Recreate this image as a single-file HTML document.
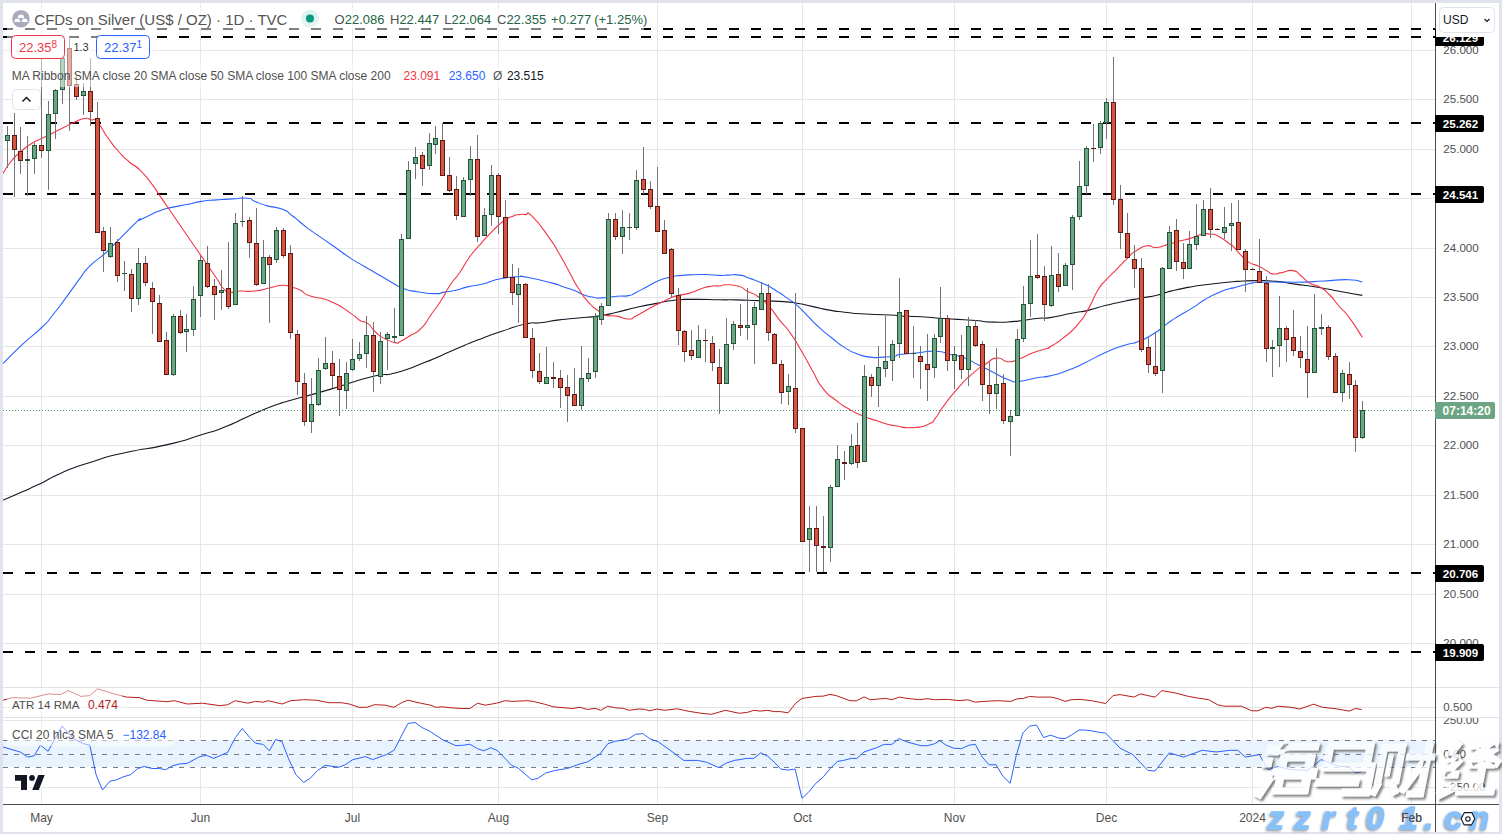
<!DOCTYPE html>
<html><head><meta charset="utf-8"><style>
html,body{margin:0;padding:0;width:1502px;height:834px;overflow:hidden;background:#e0e3eb;font-family:"Liberation Sans",sans-serif;}
#panel{position:absolute;left:3px;top:3px;width:1496px;height:829px;background:#fff;border-radius:0 6px 0 0;}
svg{position:absolute;left:0;top:0;}
.ax{font:11.6px "Liberation Sans",sans-serif;fill:#4f4f4f;}
.axb{font:bold 11.6px "Liberation Sans",sans-serif;fill:#fff;}
.tx{font:12px "Liberation Sans",sans-serif;fill:#4f4f4f;}
.lg{font:12px "Liberation Sans",sans-serif;fill:#4f4f4f;}
.lg13{font:13px "Liberation Sans",sans-serif;fill:#4f4f4f;}
</style></head><body>
<div id="panel"></div>
<svg width="1502" height="834" viewBox="0 0 1502 834">
<defs><clipPath id="cciclip"><rect x="1436" y="718" width="64" height="90"/></clipPath>
<clipPath id="mainclip"><rect x="3" y="3" width="1432" height="684"/></clipPath>
<clipPath id="subclip"><rect x="3" y="688" width="1432" height="116"/></clipPath></defs>
<g clip-path="url(#mainclip)">
<rect x="3" y="50" width="1432" height="1" fill="#e6e6e6"/>
<rect x="3" y="99" width="1432" height="1" fill="#e6e6e6"/>
<rect x="3" y="149" width="1432" height="1" fill="#e6e6e6"/>
<rect x="3" y="198" width="1432" height="1" fill="#e6e6e6"/>
<rect x="3" y="248" width="1432" height="1" fill="#e6e6e6"/>
<rect x="3" y="297" width="1432" height="1" fill="#e6e6e6"/>
<rect x="3" y="346" width="1432" height="1" fill="#e6e6e6"/>
<rect x="3" y="396" width="1432" height="1" fill="#e6e6e6"/>
<rect x="3" y="445" width="1432" height="1" fill="#e6e6e6"/>
<rect x="3" y="495" width="1432" height="1" fill="#e6e6e6"/>
<rect x="3" y="544" width="1432" height="1" fill="#e6e6e6"/>
<rect x="3" y="594" width="1432" height="1" fill="#e6e6e6"/>
<rect x="3" y="643" width="1432" height="1" fill="#e6e6e6"/>
<rect x="41" y="3" width="1" height="801" fill="#e6e6e6"/>
<rect x="200" y="3" width="1" height="801" fill="#e6e6e6"/>
<rect x="352" y="3" width="1" height="801" fill="#e6e6e6"/>
<rect x="498" y="3" width="1" height="801" fill="#e6e6e6"/>
<rect x="657" y="3" width="1" height="801" fill="#e6e6e6"/>
<rect x="802" y="3" width="1" height="801" fill="#e6e6e6"/>
<rect x="954" y="3" width="1" height="801" fill="#e6e6e6"/>
<rect x="1106" y="3" width="1" height="801" fill="#e6e6e6"/>
<rect x="1252" y="3" width="1" height="801" fill="#e6e6e6"/>
<rect x="1411" y="3" width="1" height="801" fill="#e6e6e6"/>
<line x1="3" y1="29" x2="1435" y2="29" stroke="#000" stroke-width="2" stroke-dasharray="10 12"/>
<line x1="3" y1="37" x2="1435" y2="37" stroke="#000" stroke-width="2" stroke-dasharray="10 12"/>
<line x1="3" y1="123" x2="1435" y2="123" stroke="#000" stroke-width="2" stroke-dasharray="10 12"/>
<line x1="3" y1="194" x2="1435" y2="194" stroke="#000" stroke-width="2" stroke-dasharray="10 12"/>
<line x1="3" y1="573" x2="1435" y2="573" stroke="#000" stroke-width="2" stroke-dasharray="10 12"/>
<line x1="3" y1="652" x2="1435" y2="652" stroke="#000" stroke-width="2" stroke-dasharray="10 12"/>
<path d="M3.0,500.1 C9.7,497.2 10.1,497.2 23.0,491.5 C35.9,485.8 29.2,488.9 41.7,482.9 C54.2,476.9 44.6,480.1 60.4,473.4 C76.2,466.7 67.4,469.7 89.2,462.7 C111.0,455.7 100.2,458.4 125.9,452.5 C151.6,446.6 141.0,450.8 166.2,444.9 C191.4,439.0 181.3,441.0 201.4,434.8 C221.5,428.6 209.8,433.0 226.6,426.3 C243.4,419.6 235.0,421.9 251.8,414.7 C268.6,407.5 264.2,409.3 276.9,404.6 C289.6,399.9 272.0,405.7 290.0,400.5 C308.0,395.3 303.6,397.0 330.8,389.1 C358.0,381.2 349.8,382.2 371.5,376.8 C393.2,371.4 378.3,377.5 396.0,372.8 C413.7,368.1 405.5,370.1 424.5,362.6 C443.5,355.1 435.4,357.8 453.1,350.3 C470.8,342.8 461.2,346.5 477.5,340.1 C493.8,333.7 485.7,336.6 502.0,331.2 C518.3,325.8 513.7,326.6 526.4,323.8 C539.1,321.0 529.1,324.1 540.0,322.8 C550.9,321.5 546.4,321.5 559.2,319.9 C572.0,318.3 565.6,319.3 578.4,318.0 C591.2,316.7 584.8,318.0 597.6,316.1 C610.4,314.2 604.0,315.2 616.8,312.3 C629.6,309.4 623.2,310.4 636.0,307.5 C648.8,304.6 642.3,306.0 655.1,303.6 C667.9,301.2 661.5,301.6 674.3,300.2 C687.1,298.8 678.3,299.5 693.5,299.4 C708.7,299.3 705.6,299.6 720.0,299.8 C734.4,300.0 723.9,299.6 736.6,299.9 C749.3,300.2 743.8,300.1 758.2,300.6 C772.6,301.1 766.9,300.5 779.8,301.4 C792.7,302.3 786.2,301.5 797.0,303.2 C807.8,304.9 801.3,304.1 812.1,306.4 C822.9,308.7 818.6,308.2 829.4,310.1 C840.2,312.0 832.3,310.9 844.5,312.2 C856.7,313.5 849.3,313.0 866.1,314.0 C882.9,315.0 883.7,314.6 895.0,315.3 C906.3,316.0 891.1,315.5 900.0,316.0 C908.9,316.5 907.2,315.9 921.6,316.7 C936.0,317.5 926.4,317.3 943.2,318.5 C960.0,319.7 955.1,319.1 971.9,320.3 C988.7,321.5 979.1,321.7 993.5,322.1 C1007.9,322.5 1000.7,322.6 1015.1,321.4 C1029.5,320.2 1025.1,319.8 1036.7,318.5 C1048.3,317.2 1038.4,319.3 1050.0,317.6 C1061.6,315.9 1058.6,315.8 1071.6,313.3 C1084.6,310.8 1077.4,312.8 1088.9,310.1 C1100.4,307.4 1093.9,308.3 1106.1,305.3 C1118.3,302.3 1114.0,303.4 1125.5,301.0 C1137.0,298.6 1129.9,300.2 1140.7,298.2 C1151.5,296.2 1147.8,297.4 1157.9,295.0 C1168.0,292.6 1160.8,293.6 1170.9,291.1 C1181.0,288.6 1176.6,289.5 1188.1,287.4 C1199.6,285.3 1191.4,286.6 1205.4,284.8 C1219.4,283.0 1219.3,283.1 1230.0,282.0 C1240.7,280.9 1228.7,281.9 1237.6,281.4 C1246.5,280.9 1244.0,280.6 1256.8,280.6 C1269.6,280.6 1263.2,280.2 1276.0,281.4 C1288.8,282.6 1282.4,282.3 1295.2,284.1 C1308.0,285.9 1301.6,284.8 1314.4,286.8 C1327.2,288.8 1317.6,287.3 1333.6,290.2 C1349.6,293.1 1352.7,293.7 1362.3,295.4" fill="none" stroke="#131722" stroke-width="1.1"/>
<path d="M3.0,363.5 C9.7,357.0 10.1,355.9 23.0,343.9 C35.9,331.9 31.6,337.3 41.7,327.5 C51.8,317.7 45.0,324.6 53.2,314.5 C61.4,304.4 57.5,309.0 66.2,297.3 C74.9,285.6 71.4,289.8 79.2,279.4 C87.0,269.0 80.9,275.0 89.7,266.2 C98.5,257.4 95.8,261.8 105.5,253.0 C115.2,244.2 108.1,250.3 118.7,239.8 C129.3,229.3 130.1,228.0 137.2,221.4 C144.3,214.8 135.9,222.1 140.0,220.0 C144.1,217.9 143.2,218.2 149.6,215.2 C156.0,212.2 152.2,213.5 159.2,211.0 C166.2,208.5 161.1,209.8 170.7,207.6 C180.3,205.4 177.8,206.4 188.0,204.3 C198.2,202.2 191.8,202.9 201.4,201.4 C211.0,199.9 206.5,200.7 216.7,199.9 C226.9,199.1 221.9,199.4 232.1,198.9 C242.3,198.4 239.7,197.5 247.4,198.3 C255.1,199.1 248.7,199.0 255.1,201.4 C261.5,203.8 257.6,203.0 266.6,205.6 C275.6,208.2 273.7,205.9 282.0,209.1 C290.3,212.3 285.6,210.9 291.6,215.2 C297.6,219.5 293.7,217.0 300.0,222.0 C306.3,227.0 300.1,222.7 310.4,230.1 C320.7,237.5 317.2,234.8 330.8,244.3 C344.4,253.8 341.4,252.1 351.1,258.6 C360.8,265.1 353.2,259.9 360.0,263.9 C366.8,267.9 363.8,266.1 371.5,270.6 C379.2,275.1 375.3,272.8 383.0,277.3 C390.7,281.8 387.5,280.2 394.5,284.0 C401.5,287.8 396.4,286.2 404.1,288.8 C411.8,291.4 407.4,290.1 417.6,291.7 C427.8,293.3 425.9,293.5 434.8,293.6 C443.7,293.7 437.3,293.2 444.4,292.1 C451.5,291.0 448.3,291.9 456.0,290.2 C463.7,288.5 458.6,289.0 467.5,286.9 C476.4,284.8 473.9,286.2 482.8,284.0 C491.7,281.8 486.6,282.2 494.3,280.2 C502.0,278.2 498.1,279.1 505.8,277.9 C513.5,276.7 510.3,276.9 517.4,276.7 C524.5,276.5 515.6,275.2 527.0,277.3 C538.4,279.4 539.5,279.8 551.5,282.9 C563.5,286.0 555.3,284.1 563.0,286.7 C570.7,289.3 567.5,287.8 574.5,290.6 C581.5,293.4 577.7,292.8 584.1,295.0 C590.5,297.2 587.9,296.3 593.7,297.3 C599.5,298.3 593.7,298.2 601.4,297.9 C609.1,297.6 607.8,297.1 616.8,296.3 C625.8,295.5 621.9,296.9 628.3,295.6 C634.7,294.3 629.6,295.6 636.0,292.5 C642.4,289.4 639.8,290.4 647.5,286.4 C655.2,282.4 651.3,283.7 659.0,280.6 C666.7,277.5 662.8,278.8 670.5,277.1 C678.2,275.4 674.3,276.2 682.0,275.4 C689.7,274.6 685.8,275.1 693.5,274.8 C701.2,274.5 696.2,274.3 705.0,274.5 C713.8,274.7 712.3,275.2 720.0,275.4 C727.7,275.6 721.4,275.2 728.0,275.1 C734.6,275.0 732.6,274.0 739.8,275.1 C747.0,276.2 741.9,275.6 749.5,278.3 C757.1,281.0 753.9,279.3 762.5,283.3 C771.1,287.3 766.8,285.0 775.4,290.2 C784.0,295.4 781.2,293.9 788.4,298.9 C795.6,303.9 790.5,299.6 797.0,305.3 C803.5,311.0 800.6,308.9 807.8,316.1 C815.0,323.3 810.7,319.7 818.6,326.9 C826.5,334.1 823.0,330.9 831.6,337.7 C840.2,344.5 835.9,342.0 844.5,347.4 C853.1,352.8 848.9,350.7 857.5,353.9 C866.1,357.1 861.8,356.0 870.4,357.1 C879.0,358.2 875.2,357.5 883.4,357.1 C891.6,356.7 889.5,356.9 895.0,356.0 C900.5,355.1 892.3,355.6 900.0,354.5 C907.7,353.4 906.0,353.8 918.0,352.7 C930.0,351.6 925.2,350.6 936.0,351.2 C946.8,351.8 940.8,352.2 950.4,354.5 C960.0,356.8 955.1,354.5 964.7,358.1 C974.3,361.7 969.5,360.5 979.1,365.3 C988.7,370.1 983.9,367.6 993.5,372.4 C1003.1,377.2 999.5,376.6 1007.9,379.6 C1016.3,382.6 1009.1,382.0 1018.7,381.4 C1028.3,380.8 1026.3,379.6 1036.7,377.8 C1047.1,376.0 1039.8,378.3 1050.0,375.9 C1060.2,373.5 1055.8,374.8 1067.3,370.5 C1078.8,366.2 1071.6,369.1 1084.5,363.0 C1097.4,356.9 1092.4,358.2 1106.1,352.2 C1119.8,346.2 1114.7,348.6 1125.5,345.0 C1136.3,341.4 1129.1,345.1 1138.5,341.4 C1147.9,337.7 1144.2,339.6 1153.6,333.8 C1163.0,328.0 1158.0,330.2 1166.6,324.1 C1175.2,318.0 1170.9,320.9 1179.5,315.5 C1188.1,310.1 1183.9,313.3 1192.5,307.9 C1201.1,302.5 1196.8,304.3 1205.4,299.3 C1214.0,294.3 1210.2,296.4 1218.4,292.8 C1226.6,289.2 1224.9,290.1 1230.0,288.5 C1235.1,286.9 1226.1,289.8 1233.7,287.9 C1241.3,286.0 1242.0,284.8 1252.9,282.9 C1263.8,281.0 1255.5,282.4 1266.4,282.1 C1277.3,281.8 1272.8,282.1 1285.6,282.1 C1298.4,282.1 1292.0,282.5 1304.8,282.1 C1317.6,281.7 1309.3,281.8 1324.0,281.0 C1338.7,280.2 1336.1,279.3 1348.9,279.7 C1361.7,280.1 1357.8,281.3 1362.3,282.1" fill="none" stroke="#2962ff" stroke-width="1.1"/>
<path d="M3.0,173.5 C5.5,169.7 4.6,169.3 10.6,162.0 C16.6,154.7 14.1,157.7 21.1,151.5 C28.1,145.3 24.7,147.9 31.7,143.5 C38.7,139.1 35.2,141.8 42.2,138.3 C49.2,134.8 45.8,136.5 52.8,133.0 C59.8,129.5 56.3,131.2 63.3,127.7 C70.3,124.2 66.9,125.5 73.9,122.4 C80.9,119.3 78.7,119.4 84.4,118.5 C90.1,117.6 86.6,118.5 91.0,119.8 C95.4,121.1 91.9,116.2 97.6,122.4 C103.3,128.6 101.2,128.6 108.2,138.3 C115.2,148.0 111.7,143.6 118.7,151.5 C125.7,159.4 122.2,155.8 129.3,162.0 C136.4,168.2 132.6,162.9 140.0,170.1 C147.4,177.3 145.1,175.4 151.5,183.6 C157.9,191.8 153.4,186.4 159.2,194.8 C165.0,203.2 162.4,199.5 168.8,208.8 C175.2,218.1 172.0,213.5 178.4,222.8 C184.8,232.1 181.6,227.4 188.0,236.7 C194.4,246.0 191.2,241.4 197.6,250.7 C204.0,260.0 200.7,255.2 207.1,264.5 C213.5,273.8 210.9,270.1 216.7,278.5 C222.5,286.9 219.6,285.1 224.4,289.7 C229.2,294.3 226.0,291.9 231.1,292.3 C236.2,292.7 231.8,291.4 239.8,291.0 C247.8,290.6 244.9,292.1 255.1,291.0 C265.3,289.9 261.2,289.6 270.5,287.7 C279.8,285.8 275.9,285.5 282.9,285.3 C289.9,285.1 285.9,285.6 291.6,287.2 C297.3,288.8 293.7,287.0 300.0,290.0 C306.3,293.0 300.1,292.3 310.4,296.1 C320.7,299.9 317.2,295.6 330.8,301.4 C344.4,307.2 341.4,307.2 351.1,313.6 C360.8,320.0 354.5,317.2 360.0,320.5 C365.5,323.8 362.6,319.6 367.7,323.4 C372.8,327.2 369.7,326.9 375.4,332.0 C381.1,337.1 378.2,335.2 384.9,338.7 C391.6,342.2 390.4,341.6 395.5,342.6 C400.6,343.6 395.5,343.9 400.3,341.6 C405.1,339.3 402.9,340.3 409.9,335.8 C416.9,331.3 414.4,335.2 421.4,328.2 C428.4,321.2 424.6,323.7 431.0,314.7 C437.4,305.7 434.2,311.2 440.6,301.3 C447.0,291.4 443.8,294.6 450.2,285.0 C456.6,275.4 453.4,281.8 459.8,272.5 C466.2,263.2 463.0,266.1 469.4,257.2 C475.8,248.3 472.6,253.1 479.0,245.7 C485.4,238.3 482.2,241.8 488.6,235.1 C495.0,228.4 492.5,230.6 498.2,225.5 C503.9,220.4 500.7,222.9 505.8,219.7 C510.9,216.5 509.0,217.6 513.5,215.9 C518.0,214.2 515.5,215.0 519.3,214.6 C523.1,214.2 520.5,213.8 525.0,214.6 C529.5,215.4 524.5,209.0 532.7,216.9 C540.9,224.8 540.8,226.1 549.6,238.4 C558.4,250.7 552.8,242.8 559.2,253.7 C565.6,264.6 562.4,259.5 568.8,271.0 C575.2,282.5 572.0,278.1 578.4,288.3 C584.8,298.5 581.6,294.4 588.0,301.7 C594.4,309.0 591.9,305.8 597.6,310.3 C603.3,314.8 598.8,313.2 605.2,315.1 C611.6,317.0 609.1,314.8 616.8,316.1 C624.5,317.4 621.9,319.0 628.3,319.0 C634.7,319.0 629.6,319.3 636.0,316.1 C642.4,312.9 639.8,313.6 647.5,309.4 C655.2,305.2 651.3,307.4 659.0,303.6 C666.7,299.8 664.1,300.6 670.5,297.9 C676.9,295.2 671.8,297.2 678.2,295.6 C684.6,294.0 682.0,295.4 689.7,293.1 C697.4,290.8 693.5,291.1 701.2,288.7 C708.9,286.3 706.4,286.9 712.7,286.0 C719.0,285.1 715.6,286.4 720.0,286.0 C724.4,285.6 719.6,284.7 725.8,284.8 C732.0,284.9 731.5,284.1 738.7,286.3 C745.9,288.5 740.9,287.8 747.4,291.3 C753.9,294.8 751.0,291.7 758.2,296.7 C765.4,301.7 761.8,298.5 769.0,306.4 C776.2,314.3 772.6,311.4 779.8,320.4 C787.0,329.4 783.3,323.3 790.5,333.4 C797.7,343.5 794.1,338.5 801.3,350.7 C808.5,362.9 804.9,357.5 812.1,370.1 C819.3,382.7 815.0,378.3 822.9,388.4 C830.8,398.5 827.3,393.5 835.9,400.3 C844.5,407.1 840.2,403.9 848.8,408.9 C857.4,413.9 852.4,411.4 861.8,415.4 C871.2,419.4 865.8,417.3 876.9,420.8 C888.0,424.3 882.5,423.6 895.0,425.8 C907.5,428.0 903.1,428.1 914.4,427.5 C925.7,426.9 921.6,427.3 928.8,423.9 C936.0,420.5 931.2,423.2 936.0,417.4 C940.8,411.6 936.0,416.2 943.2,406.6 C950.4,397.0 948.0,399.4 957.6,388.6 C967.2,377.8 962.3,382.6 971.9,374.2 C981.5,365.8 977.9,368.9 986.3,363.5 C994.7,358.1 989.9,358.7 997.1,358.1 C1004.3,357.5 1000.7,361.4 1007.9,361.7 C1015.1,362.0 1010.3,362.1 1018.7,359.1 C1027.1,356.1 1023.5,356.3 1033.1,352.7 C1042.7,349.1 1041.9,350.3 1047.5,348.3 C1053.1,346.3 1044.8,350.2 1050.0,346.8 C1055.2,343.4 1053.6,345.7 1063.0,338.1 C1072.4,330.5 1069.5,334.2 1078.1,324.1 C1086.7,314.0 1082.4,319.0 1088.9,307.9 C1095.4,296.8 1091.8,300.0 1097.5,290.7 C1103.2,281.4 1099.6,287.1 1106.1,279.9 C1112.6,272.7 1109.7,276.5 1116.9,269.1 C1124.1,261.7 1121.2,263.9 1127.7,257.8 C1134.2,251.7 1129.8,254.7 1136.3,250.7 C1142.8,246.7 1140.6,246.9 1147.1,245.8 C1153.6,244.7 1149.3,247.8 1155.8,247.5 C1162.3,247.2 1158.7,247.1 1166.6,244.9 C1174.5,242.7 1171.6,243.2 1179.5,241.0 C1187.4,238.8 1183.1,240.6 1190.3,238.4 C1197.5,236.2 1194.6,235.9 1201.1,234.5 C1207.6,233.1 1203.9,233.5 1209.7,234.1 C1215.5,234.7 1211.6,232.9 1218.4,236.3 C1225.2,239.7 1224.9,240.6 1230.0,244.2 C1235.1,247.8 1229.9,243.2 1233.7,247.0 C1237.5,250.8 1236.3,250.6 1241.4,255.7 C1246.5,260.8 1243.3,258.9 1249.1,262.4 C1254.9,265.9 1252.9,263.5 1258.7,266.2 C1264.5,268.9 1261.6,268.0 1266.4,270.6 C1271.2,273.2 1268.0,273.2 1273.1,273.9 C1278.2,274.6 1275.0,273.7 1281.7,272.6 C1288.4,271.5 1286.8,269.5 1293.2,270.6 C1299.6,271.7 1295.1,271.5 1300.9,275.8 C1306.7,280.1 1304.1,279.7 1310.5,283.5 C1316.9,287.3 1313.7,283.5 1320.1,287.3 C1326.5,291.1 1323.3,288.6 1329.7,295.0 C1336.1,301.4 1332.9,299.1 1339.3,306.5 C1345.7,313.9 1341.2,306.9 1348.9,317.1 C1356.6,327.3 1357.8,330.5 1362.3,337.2" fill="none" stroke="#f23645" stroke-width="1.1"/>
<line x1="3" y1="410.5" x2="1435" y2="410.5" stroke="#4c9c72" stroke-width="1" stroke-dasharray="1 2"/>
<g shape-rendering="crispEdges"><rect x="7" y="126" width="1" height="42" fill="#737375"/><rect x="5" y="135" width="5" height="6" fill="#225437"/><rect x="6" y="136" width="3" height="4" fill="#6ba583"/><rect x="14" y="113" width="1" height="84" fill="#737375"/><rect x="12" y="135" width="5" height="15" fill="#5b1a13"/><rect x="13" y="136" width="3" height="13" fill="#d75442"/><rect x="20" y="127" width="1" height="47" fill="#737375"/><rect x="18" y="151" width="5" height="10" fill="#5b1a13"/><rect x="19" y="152" width="3" height="8" fill="#d75442"/><rect x="27" y="136" width="1" height="60" fill="#737375"/><rect x="25" y="159" width="5" height="2" fill="#225437"/><rect x="34" y="143" width="1" height="31" fill="#737375"/><rect x="32" y="145" width="5" height="14" fill="#225437"/><rect x="33" y="146" width="3" height="12" fill="#6ba583"/><rect x="41" y="55" width="1" height="103" fill="#737375"/><rect x="39" y="145" width="5" height="6" fill="#5b1a13"/><rect x="40" y="146" width="3" height="4" fill="#d75442"/><rect x="48" y="101" width="1" height="89" fill="#737375"/><rect x="46" y="114" width="5" height="37" fill="#225437"/><rect x="47" y="115" width="3" height="35" fill="#6ba583"/><rect x="55" y="89" width="1" height="50" fill="#737375"/><rect x="53" y="90" width="5" height="24" fill="#225437"/><rect x="54" y="91" width="3" height="22" fill="#6ba583"/><rect x="62" y="56" width="1" height="48" fill="#737375"/><rect x="60" y="58" width="5" height="32" fill="#225437"/><rect x="61" y="59" width="3" height="30" fill="#6ba583"/><rect x="69" y="37" width="1" height="94" fill="#737375"/><rect x="67" y="48" width="5" height="38" fill="#5b1a13"/><rect x="68" y="49" width="3" height="36" fill="#d75442"/><rect x="76" y="76" width="1" height="24" fill="#737375"/><rect x="74" y="84" width="5" height="13" fill="#5b1a13"/><rect x="75" y="85" width="3" height="11" fill="#d75442"/><rect x="83" y="83" width="1" height="32" fill="#737375"/><rect x="81" y="91" width="5" height="5" fill="#225437"/><rect x="82" y="92" width="3" height="3" fill="#6ba583"/><rect x="90" y="58" width="1" height="68" fill="#737375"/><rect x="88" y="91" width="5" height="21" fill="#5b1a13"/><rect x="89" y="92" width="3" height="19" fill="#d75442"/><rect x="97" y="102" width="1" height="131" fill="#737375"/><rect x="95" y="118" width="5" height="115" fill="#5b1a13"/><rect x="96" y="119" width="3" height="113" fill="#d75442"/><rect x="103" y="227" width="1" height="45" fill="#737375"/><rect x="101" y="231" width="5" height="20" fill="#5b1a13"/><rect x="102" y="232" width="3" height="18" fill="#d75442"/><rect x="110" y="227" width="1" height="31" fill="#737375"/><rect x="108" y="243" width="5" height="14" fill="#225437"/><rect x="109" y="244" width="3" height="12" fill="#6ba583"/><rect x="117" y="239" width="1" height="43" fill="#737375"/><rect x="115" y="242" width="5" height="34" fill="#5b1a13"/><rect x="116" y="243" width="3" height="32" fill="#d75442"/><rect x="124" y="261" width="1" height="30" fill="#737375"/><rect x="122" y="273" width="5" height="1" fill="#225437"/><rect x="131" y="269" width="1" height="43" fill="#737375"/><rect x="129" y="274" width="5" height="25" fill="#5b1a13"/><rect x="130" y="275" width="3" height="23" fill="#d75442"/><rect x="138" y="248" width="1" height="57" fill="#737375"/><rect x="136" y="263" width="5" height="36" fill="#225437"/><rect x="137" y="264" width="3" height="34" fill="#6ba583"/><rect x="145" y="256" width="1" height="30" fill="#737375"/><rect x="143" y="263" width="5" height="20" fill="#5b1a13"/><rect x="144" y="264" width="3" height="18" fill="#d75442"/><rect x="152" y="282" width="1" height="52" fill="#737375"/><rect x="150" y="288" width="5" height="14" fill="#5b1a13"/><rect x="151" y="289" width="3" height="12" fill="#d75442"/><rect x="159" y="295" width="1" height="47" fill="#737375"/><rect x="157" y="303" width="5" height="39" fill="#5b1a13"/><rect x="158" y="304" width="3" height="37" fill="#d75442"/><rect x="166" y="332" width="1" height="43" fill="#737375"/><rect x="164" y="340" width="5" height="35" fill="#5b1a13"/><rect x="165" y="341" width="3" height="33" fill="#d75442"/><rect x="173" y="314" width="1" height="62" fill="#737375"/><rect x="171" y="316" width="5" height="59" fill="#225437"/><rect x="172" y="317" width="3" height="57" fill="#6ba583"/><rect x="180" y="310" width="1" height="24" fill="#737375"/><rect x="178" y="316" width="5" height="17" fill="#5b1a13"/><rect x="179" y="317" width="3" height="15" fill="#d75442"/><rect x="186" y="314" width="1" height="38" fill="#737375"/><rect x="184" y="329" width="5" height="3" fill="#225437"/><rect x="185" y="330" width="3" height="1" fill="#6ba583"/><rect x="193" y="286" width="1" height="50" fill="#737375"/><rect x="191" y="299" width="5" height="31" fill="#225437"/><rect x="192" y="300" width="3" height="29" fill="#6ba583"/><rect x="200" y="256" width="1" height="61" fill="#737375"/><rect x="198" y="260" width="5" height="36" fill="#225437"/><rect x="199" y="261" width="3" height="34" fill="#6ba583"/><rect x="207" y="246" width="1" height="42" fill="#737375"/><rect x="205" y="263" width="5" height="24" fill="#5b1a13"/><rect x="206" y="264" width="3" height="22" fill="#d75442"/><rect x="214" y="279" width="1" height="41" fill="#737375"/><rect x="212" y="286" width="5" height="9" fill="#5b1a13"/><rect x="213" y="287" width="3" height="7" fill="#d75442"/><rect x="221" y="270" width="1" height="40" fill="#737375"/><rect x="219" y="290" width="5" height="3" fill="#225437"/><rect x="220" y="291" width="3" height="1" fill="#6ba583"/><rect x="228" y="242" width="1" height="67" fill="#737375"/><rect x="226" y="288" width="5" height="19" fill="#5b1a13"/><rect x="227" y="289" width="3" height="17" fill="#d75442"/><rect x="235" y="213" width="1" height="92" fill="#737375"/><rect x="233" y="223" width="5" height="82" fill="#225437"/><rect x="234" y="224" width="3" height="80" fill="#6ba583"/><rect x="242" y="196" width="1" height="31" fill="#737375"/><rect x="240" y="221" width="5" height="1" fill="#225437"/><rect x="249" y="217" width="1" height="41" fill="#737375"/><rect x="247" y="220" width="5" height="23" fill="#5b1a13"/><rect x="248" y="221" width="3" height="21" fill="#d75442"/><rect x="256" y="208" width="1" height="78" fill="#737375"/><rect x="254" y="243" width="5" height="42" fill="#5b1a13"/><rect x="255" y="244" width="3" height="40" fill="#d75442"/><rect x="263" y="240" width="1" height="44" fill="#737375"/><rect x="261" y="257" width="5" height="27" fill="#225437"/><rect x="262" y="258" width="3" height="25" fill="#6ba583"/><rect x="269" y="255" width="1" height="68" fill="#737375"/><rect x="267" y="257" width="5" height="8" fill="#5b1a13"/><rect x="268" y="258" width="3" height="6" fill="#d75442"/><rect x="276" y="227" width="1" height="36" fill="#737375"/><rect x="274" y="230" width="5" height="30" fill="#225437"/><rect x="275" y="231" width="3" height="28" fill="#6ba583"/><rect x="283" y="228" width="1" height="30" fill="#737375"/><rect x="281" y="230" width="5" height="26" fill="#5b1a13"/><rect x="282" y="231" width="3" height="24" fill="#d75442"/><rect x="290" y="245" width="1" height="94" fill="#737375"/><rect x="288" y="253" width="5" height="80" fill="#5b1a13"/><rect x="289" y="254" width="3" height="78" fill="#d75442"/><rect x="297" y="330" width="1" height="65" fill="#737375"/><rect x="295" y="334" width="5" height="48" fill="#5b1a13"/><rect x="296" y="335" width="3" height="46" fill="#d75442"/><rect x="304" y="373" width="1" height="53" fill="#737375"/><rect x="302" y="383" width="5" height="39" fill="#5b1a13"/><rect x="303" y="384" width="3" height="37" fill="#d75442"/><rect x="311" y="378" width="1" height="55" fill="#737375"/><rect x="309" y="404" width="5" height="18" fill="#225437"/><rect x="310" y="405" width="3" height="16" fill="#6ba583"/><rect x="318" y="358" width="1" height="48" fill="#737375"/><rect x="316" y="370" width="5" height="35" fill="#225437"/><rect x="317" y="371" width="3" height="33" fill="#6ba583"/><rect x="325" y="337" width="1" height="33" fill="#737375"/><rect x="323" y="363" width="5" height="6" fill="#225437"/><rect x="324" y="364" width="3" height="4" fill="#6ba583"/><rect x="332" y="351" width="1" height="37" fill="#737375"/><rect x="330" y="363" width="5" height="13" fill="#5b1a13"/><rect x="331" y="364" width="3" height="11" fill="#d75442"/><rect x="339" y="359" width="1" height="57" fill="#737375"/><rect x="337" y="376" width="5" height="14" fill="#5b1a13"/><rect x="338" y="377" width="3" height="12" fill="#d75442"/><rect x="346" y="362" width="1" height="47" fill="#737375"/><rect x="344" y="373" width="5" height="18" fill="#225437"/><rect x="345" y="374" width="3" height="16" fill="#6ba583"/><rect x="352" y="339" width="1" height="32" fill="#737375"/><rect x="350" y="359" width="5" height="11" fill="#225437"/><rect x="351" y="360" width="3" height="9" fill="#6ba583"/><rect x="359" y="342" width="1" height="19" fill="#737375"/><rect x="357" y="354" width="5" height="5" fill="#225437"/><rect x="358" y="355" width="3" height="3" fill="#6ba583"/><rect x="366" y="316" width="1" height="52" fill="#737375"/><rect x="364" y="335" width="5" height="19" fill="#225437"/><rect x="365" y="336" width="3" height="17" fill="#6ba583"/><rect x="373" y="322" width="1" height="70" fill="#737375"/><rect x="371" y="335" width="5" height="37" fill="#5b1a13"/><rect x="372" y="336" width="3" height="35" fill="#d75442"/><rect x="380" y="332" width="1" height="52" fill="#737375"/><rect x="378" y="341" width="5" height="36" fill="#225437"/><rect x="379" y="342" width="3" height="34" fill="#6ba583"/><rect x="387" y="332" width="1" height="38" fill="#737375"/><rect x="385" y="334" width="5" height="5" fill="#225437"/><rect x="386" y="335" width="3" height="3" fill="#6ba583"/><rect x="394" y="308" width="1" height="35" fill="#737375"/><rect x="392" y="336" width="5" height="2" fill="#225437"/><rect x="401" y="234" width="1" height="102" fill="#737375"/><rect x="399" y="239" width="5" height="97" fill="#225437"/><rect x="400" y="240" width="3" height="95" fill="#6ba583"/><rect x="408" y="161" width="1" height="78" fill="#737375"/><rect x="406" y="170" width="5" height="69" fill="#225437"/><rect x="407" y="171" width="3" height="67" fill="#6ba583"/><rect x="415" y="147" width="1" height="32" fill="#737375"/><rect x="413" y="157" width="5" height="7" fill="#225437"/><rect x="414" y="158" width="3" height="5" fill="#6ba583"/><rect x="422" y="152" width="1" height="34" fill="#737375"/><rect x="420" y="155" width="5" height="14" fill="#5b1a13"/><rect x="421" y="156" width="3" height="12" fill="#d75442"/><rect x="429" y="133" width="1" height="37" fill="#737375"/><rect x="427" y="143" width="5" height="23" fill="#225437"/><rect x="428" y="144" width="3" height="21" fill="#6ba583"/><rect x="435" y="126" width="1" height="28" fill="#737375"/><rect x="433" y="138" width="5" height="7" fill="#225437"/><rect x="434" y="139" width="3" height="5" fill="#6ba583"/><rect x="442" y="123" width="1" height="53" fill="#737375"/><rect x="440" y="140" width="5" height="36" fill="#5b1a13"/><rect x="441" y="141" width="3" height="34" fill="#d75442"/><rect x="449" y="157" width="1" height="35" fill="#737375"/><rect x="447" y="175" width="5" height="16" fill="#5b1a13"/><rect x="448" y="176" width="3" height="14" fill="#d75442"/><rect x="456" y="176" width="1" height="44" fill="#737375"/><rect x="454" y="189" width="5" height="27" fill="#5b1a13"/><rect x="455" y="190" width="3" height="25" fill="#d75442"/><rect x="463" y="177" width="1" height="40" fill="#737375"/><rect x="461" y="180" width="5" height="37" fill="#225437"/><rect x="462" y="181" width="3" height="35" fill="#6ba583"/><rect x="470" y="146" width="1" height="50" fill="#737375"/><rect x="468" y="159" width="5" height="21" fill="#225437"/><rect x="469" y="160" width="3" height="19" fill="#6ba583"/><rect x="477" y="135" width="1" height="107" fill="#737375"/><rect x="475" y="159" width="5" height="78" fill="#5b1a13"/><rect x="476" y="160" width="3" height="76" fill="#d75442"/><rect x="484" y="208" width="1" height="28" fill="#737375"/><rect x="482" y="215" width="5" height="21" fill="#225437"/><rect x="483" y="216" width="3" height="19" fill="#6ba583"/><rect x="491" y="165" width="1" height="61" fill="#737375"/><rect x="489" y="175" width="5" height="40" fill="#225437"/><rect x="490" y="176" width="3" height="38" fill="#6ba583"/><rect x="498" y="173" width="1" height="61" fill="#737375"/><rect x="496" y="175" width="5" height="42" fill="#5b1a13"/><rect x="497" y="176" width="3" height="40" fill="#d75442"/><rect x="505" y="200" width="1" height="78" fill="#737375"/><rect x="503" y="217" width="5" height="61" fill="#5b1a13"/><rect x="504" y="218" width="3" height="59" fill="#d75442"/><rect x="512" y="264" width="1" height="41" fill="#737375"/><rect x="510" y="277" width="5" height="16" fill="#5b1a13"/><rect x="511" y="278" width="3" height="14" fill="#d75442"/><rect x="518" y="268" width="1" height="55" fill="#737375"/><rect x="516" y="284" width="5" height="11" fill="#225437"/><rect x="517" y="285" width="3" height="9" fill="#6ba583"/><rect x="525" y="283" width="1" height="55" fill="#737375"/><rect x="523" y="284" width="5" height="54" fill="#5b1a13"/><rect x="524" y="285" width="3" height="52" fill="#d75442"/><rect x="532" y="328" width="1" height="50" fill="#737375"/><rect x="530" y="338" width="5" height="33" fill="#5b1a13"/><rect x="531" y="339" width="3" height="31" fill="#d75442"/><rect x="539" y="353" width="1" height="31" fill="#737375"/><rect x="537" y="371" width="5" height="11" fill="#5b1a13"/><rect x="538" y="372" width="3" height="9" fill="#d75442"/><rect x="546" y="347" width="1" height="37" fill="#737375"/><rect x="544" y="377" width="5" height="7" fill="#225437"/><rect x="545" y="378" width="3" height="5" fill="#6ba583"/><rect x="553" y="362" width="1" height="26" fill="#737375"/><rect x="551" y="377" width="5" height="2" fill="#5b1a13"/><rect x="560" y="370" width="1" height="38" fill="#737375"/><rect x="558" y="378" width="5" height="10" fill="#5b1a13"/><rect x="559" y="379" width="3" height="8" fill="#d75442"/><rect x="567" y="375" width="1" height="47" fill="#737375"/><rect x="565" y="387" width="5" height="9" fill="#5b1a13"/><rect x="566" y="388" width="3" height="7" fill="#d75442"/><rect x="574" y="368" width="1" height="38" fill="#737375"/><rect x="572" y="394" width="5" height="12" fill="#5b1a13"/><rect x="573" y="395" width="3" height="10" fill="#d75442"/><rect x="581" y="346" width="1" height="64" fill="#737375"/><rect x="579" y="378" width="5" height="28" fill="#225437"/><rect x="580" y="379" width="3" height="26" fill="#6ba583"/><rect x="588" y="358" width="1" height="24" fill="#737375"/><rect x="586" y="373" width="5" height="6" fill="#225437"/><rect x="587" y="374" width="3" height="4" fill="#6ba583"/><rect x="595" y="313" width="1" height="65" fill="#737375"/><rect x="593" y="316" width="5" height="56" fill="#225437"/><rect x="594" y="317" width="3" height="54" fill="#6ba583"/><rect x="601" y="303" width="1" height="22" fill="#737375"/><rect x="599" y="306" width="5" height="14" fill="#225437"/><rect x="600" y="307" width="3" height="12" fill="#6ba583"/><rect x="608" y="213" width="1" height="93" fill="#737375"/><rect x="606" y="219" width="5" height="87" fill="#225437"/><rect x="607" y="220" width="3" height="85" fill="#6ba583"/><rect x="615" y="213" width="1" height="27" fill="#737375"/><rect x="613" y="219" width="5" height="18" fill="#5b1a13"/><rect x="614" y="220" width="3" height="16" fill="#d75442"/><rect x="622" y="210" width="1" height="44" fill="#737375"/><rect x="620" y="227" width="5" height="10" fill="#225437"/><rect x="621" y="228" width="3" height="8" fill="#6ba583"/><rect x="629" y="213" width="1" height="27" fill="#737375"/><rect x="627" y="227" width="5" height="1" fill="#225437"/><rect x="636" y="170" width="1" height="60" fill="#737375"/><rect x="634" y="180" width="5" height="48" fill="#225437"/><rect x="635" y="181" width="3" height="46" fill="#6ba583"/><rect x="643" y="147" width="1" height="47" fill="#737375"/><rect x="641" y="179" width="5" height="11" fill="#5b1a13"/><rect x="642" y="180" width="3" height="9" fill="#d75442"/><rect x="650" y="181" width="1" height="28" fill="#737375"/><rect x="648" y="189" width="5" height="18" fill="#5b1a13"/><rect x="649" y="190" width="3" height="16" fill="#d75442"/><rect x="657" y="167" width="1" height="65" fill="#737375"/><rect x="655" y="206" width="5" height="26" fill="#5b1a13"/><rect x="656" y="207" width="3" height="24" fill="#d75442"/><rect x="664" y="220" width="1" height="34" fill="#737375"/><rect x="662" y="230" width="5" height="24" fill="#5b1a13"/><rect x="663" y="231" width="3" height="22" fill="#d75442"/><rect x="671" y="248" width="1" height="50" fill="#737375"/><rect x="669" y="249" width="5" height="45" fill="#5b1a13"/><rect x="670" y="250" width="3" height="43" fill="#d75442"/><rect x="678" y="288" width="1" height="57" fill="#737375"/><rect x="676" y="295" width="5" height="36" fill="#5b1a13"/><rect x="677" y="296" width="3" height="34" fill="#d75442"/><rect x="684" y="330" width="1" height="32" fill="#737375"/><rect x="682" y="331" width="5" height="21" fill="#5b1a13"/><rect x="683" y="332" width="3" height="19" fill="#d75442"/><rect x="691" y="330" width="1" height="30" fill="#737375"/><rect x="689" y="350" width="5" height="6" fill="#5b1a13"/><rect x="690" y="351" width="3" height="4" fill="#d75442"/><rect x="698" y="325" width="1" height="33" fill="#737375"/><rect x="696" y="340" width="5" height="18" fill="#225437"/><rect x="697" y="341" width="3" height="16" fill="#6ba583"/><rect x="705" y="329" width="1" height="33" fill="#737375"/><rect x="703" y="340" width="5" height="1" fill="#5b1a13"/><rect x="712" y="336" width="1" height="35" fill="#737375"/><rect x="710" y="343" width="5" height="20" fill="#5b1a13"/><rect x="711" y="344" width="3" height="18" fill="#d75442"/><rect x="719" y="349" width="1" height="65" fill="#737375"/><rect x="717" y="367" width="5" height="17" fill="#5b1a13"/><rect x="718" y="368" width="3" height="15" fill="#d75442"/><rect x="726" y="318" width="1" height="66" fill="#737375"/><rect x="724" y="344" width="5" height="40" fill="#225437"/><rect x="725" y="345" width="3" height="38" fill="#6ba583"/><rect x="733" y="321" width="1" height="29" fill="#737375"/><rect x="731" y="324" width="5" height="20" fill="#225437"/><rect x="732" y="325" width="3" height="18" fill="#6ba583"/><rect x="740" y="304" width="1" height="32" fill="#737375"/><rect x="738" y="325" width="5" height="3" fill="#5b1a13"/><rect x="739" y="326" width="3" height="1" fill="#d75442"/><rect x="747" y="288" width="1" height="52" fill="#737375"/><rect x="745" y="325" width="5" height="3" fill="#225437"/><rect x="746" y="326" width="3" height="1" fill="#6ba583"/><rect x="754" y="302" width="1" height="62" fill="#737375"/><rect x="752" y="307" width="5" height="18" fill="#225437"/><rect x="753" y="308" width="3" height="16" fill="#6ba583"/><rect x="761" y="282" width="1" height="28" fill="#737375"/><rect x="759" y="293" width="5" height="17" fill="#225437"/><rect x="760" y="294" width="3" height="15" fill="#6ba583"/><rect x="768" y="284" width="1" height="57" fill="#737375"/><rect x="766" y="293" width="5" height="40" fill="#5b1a13"/><rect x="767" y="294" width="3" height="38" fill="#d75442"/><rect x="774" y="333" width="1" height="31" fill="#737375"/><rect x="772" y="334" width="5" height="30" fill="#5b1a13"/><rect x="773" y="335" width="3" height="28" fill="#d75442"/><rect x="781" y="360" width="1" height="44" fill="#737375"/><rect x="779" y="364" width="5" height="29" fill="#5b1a13"/><rect x="780" y="365" width="3" height="27" fill="#d75442"/><rect x="788" y="374" width="1" height="31" fill="#737375"/><rect x="786" y="386" width="5" height="6" fill="#225437"/><rect x="787" y="387" width="3" height="4" fill="#6ba583"/><rect x="795" y="293" width="1" height="140" fill="#737375"/><rect x="793" y="388" width="5" height="41" fill="#5b1a13"/><rect x="794" y="389" width="3" height="39" fill="#d75442"/><rect x="802" y="428" width="1" height="114" fill="#737375"/><rect x="800" y="428" width="5" height="114" fill="#5b1a13"/><rect x="801" y="429" width="3" height="112" fill="#d75442"/><rect x="809" y="506" width="1" height="66" fill="#737375"/><rect x="807" y="528" width="5" height="12" fill="#225437"/><rect x="808" y="529" width="3" height="10" fill="#6ba583"/><rect x="816" y="506" width="1" height="66" fill="#737375"/><rect x="814" y="528" width="5" height="18" fill="#5b1a13"/><rect x="815" y="529" width="3" height="16" fill="#d75442"/><rect x="823" y="516" width="1" height="56" fill="#737375"/><rect x="821" y="546" width="5" height="2" fill="#5b1a13"/><rect x="830" y="485" width="1" height="77" fill="#737375"/><rect x="828" y="487" width="5" height="61" fill="#225437"/><rect x="829" y="488" width="3" height="59" fill="#6ba583"/><rect x="837" y="445" width="1" height="42" fill="#737375"/><rect x="835" y="459" width="5" height="28" fill="#225437"/><rect x="836" y="460" width="3" height="26" fill="#6ba583"/><rect x="844" y="451" width="1" height="29" fill="#737375"/><rect x="842" y="462" width="5" height="2" fill="#5b1a13"/><rect x="851" y="434" width="1" height="31" fill="#737375"/><rect x="849" y="446" width="5" height="18" fill="#225437"/><rect x="850" y="447" width="3" height="16" fill="#6ba583"/><rect x="857" y="423" width="1" height="45" fill="#737375"/><rect x="855" y="445" width="5" height="18" fill="#5b1a13"/><rect x="856" y="446" width="3" height="16" fill="#d75442"/><rect x="864" y="365" width="1" height="97" fill="#737375"/><rect x="862" y="376" width="5" height="86" fill="#225437"/><rect x="863" y="377" width="3" height="84" fill="#6ba583"/><rect x="871" y="374" width="1" height="23" fill="#737375"/><rect x="869" y="377" width="5" height="9" fill="#5b1a13"/><rect x="870" y="378" width="3" height="7" fill="#d75442"/><rect x="878" y="346" width="1" height="61" fill="#737375"/><rect x="876" y="367" width="5" height="19" fill="#225437"/><rect x="877" y="368" width="3" height="17" fill="#6ba583"/><rect x="885" y="316" width="1" height="61" fill="#737375"/><rect x="883" y="361" width="5" height="8" fill="#225437"/><rect x="884" y="362" width="3" height="6" fill="#6ba583"/><rect x="892" y="340" width="1" height="41" fill="#737375"/><rect x="890" y="344" width="5" height="17" fill="#225437"/><rect x="891" y="345" width="3" height="15" fill="#6ba583"/><rect x="899" y="278" width="1" height="80" fill="#737375"/><rect x="897" y="312" width="5" height="32" fill="#225437"/><rect x="898" y="313" width="3" height="30" fill="#6ba583"/><rect x="906" y="310" width="1" height="44" fill="#737375"/><rect x="904" y="310" width="5" height="44" fill="#5b1a13"/><rect x="905" y="311" width="3" height="42" fill="#d75442"/><rect x="913" y="326" width="1" height="52" fill="#737375"/><rect x="911" y="353" width="5" height="1" fill="#225437"/><rect x="920" y="346" width="1" height="43" fill="#737375"/><rect x="918" y="356" width="5" height="6" fill="#5b1a13"/><rect x="919" y="357" width="3" height="4" fill="#d75442"/><rect x="927" y="334" width="1" height="67" fill="#737375"/><rect x="925" y="364" width="5" height="6" fill="#5b1a13"/><rect x="926" y="365" width="3" height="4" fill="#d75442"/><rect x="934" y="334" width="1" height="44" fill="#737375"/><rect x="932" y="338" width="5" height="30" fill="#225437"/><rect x="933" y="339" width="3" height="28" fill="#6ba583"/><rect x="940" y="287" width="1" height="56" fill="#737375"/><rect x="938" y="318" width="5" height="19" fill="#225437"/><rect x="939" y="319" width="3" height="17" fill="#6ba583"/><rect x="947" y="315" width="1" height="56" fill="#737375"/><rect x="945" y="318" width="5" height="43" fill="#5b1a13"/><rect x="946" y="319" width="3" height="41" fill="#d75442"/><rect x="954" y="346" width="1" height="43" fill="#737375"/><rect x="952" y="354" width="5" height="7" fill="#225437"/><rect x="953" y="355" width="3" height="5" fill="#6ba583"/><rect x="961" y="335" width="1" height="44" fill="#737375"/><rect x="959" y="355" width="5" height="15" fill="#5b1a13"/><rect x="960" y="356" width="3" height="13" fill="#d75442"/><rect x="968" y="317" width="1" height="69" fill="#737375"/><rect x="966" y="326" width="5" height="44" fill="#225437"/><rect x="967" y="327" width="3" height="42" fill="#6ba583"/><rect x="975" y="320" width="1" height="27" fill="#737375"/><rect x="973" y="326" width="5" height="20" fill="#5b1a13"/><rect x="974" y="327" width="3" height="18" fill="#d75442"/><rect x="982" y="341" width="1" height="60" fill="#737375"/><rect x="980" y="344" width="5" height="41" fill="#5b1a13"/><rect x="981" y="345" width="3" height="39" fill="#d75442"/><rect x="989" y="362" width="1" height="52" fill="#737375"/><rect x="987" y="385" width="5" height="9" fill="#5b1a13"/><rect x="988" y="386" width="3" height="7" fill="#d75442"/><rect x="996" y="348" width="1" height="61" fill="#737375"/><rect x="994" y="384" width="5" height="10" fill="#225437"/><rect x="995" y="385" width="3" height="8" fill="#6ba583"/><rect x="1003" y="374" width="1" height="50" fill="#737375"/><rect x="1001" y="383" width="5" height="38" fill="#5b1a13"/><rect x="1002" y="384" width="3" height="36" fill="#d75442"/><rect x="1010" y="410" width="1" height="46" fill="#737375"/><rect x="1008" y="416" width="5" height="6" fill="#225437"/><rect x="1009" y="417" width="3" height="4" fill="#6ba583"/><rect x="1017" y="329" width="1" height="87" fill="#737375"/><rect x="1015" y="339" width="5" height="77" fill="#225437"/><rect x="1016" y="340" width="3" height="75" fill="#6ba583"/><rect x="1023" y="286" width="1" height="56" fill="#737375"/><rect x="1021" y="304" width="5" height="35" fill="#225437"/><rect x="1022" y="305" width="3" height="33" fill="#6ba583"/><rect x="1030" y="240" width="1" height="77" fill="#737375"/><rect x="1028" y="276" width="5" height="28" fill="#225437"/><rect x="1029" y="277" width="3" height="26" fill="#6ba583"/><rect x="1037" y="234" width="1" height="45" fill="#737375"/><rect x="1035" y="275" width="5" height="3" fill="#5b1a13"/><rect x="1036" y="276" width="3" height="1" fill="#d75442"/><rect x="1044" y="266" width="1" height="55" fill="#737375"/><rect x="1042" y="276" width="5" height="29" fill="#5b1a13"/><rect x="1043" y="277" width="3" height="27" fill="#d75442"/><rect x="1051" y="246" width="1" height="61" fill="#737375"/><rect x="1049" y="275" width="5" height="31" fill="#225437"/><rect x="1050" y="276" width="3" height="29" fill="#6ba583"/><rect x="1058" y="253" width="1" height="39" fill="#737375"/><rect x="1056" y="274" width="5" height="13" fill="#5b1a13"/><rect x="1057" y="275" width="3" height="11" fill="#d75442"/><rect x="1065" y="263" width="1" height="23" fill="#737375"/><rect x="1063" y="265" width="5" height="21" fill="#225437"/><rect x="1064" y="266" width="3" height="19" fill="#6ba583"/><rect x="1072" y="215" width="1" height="75" fill="#737375"/><rect x="1070" y="217" width="5" height="48" fill="#225437"/><rect x="1071" y="218" width="3" height="46" fill="#6ba583"/><rect x="1079" y="161" width="1" height="59" fill="#737375"/><rect x="1077" y="186" width="5" height="31" fill="#225437"/><rect x="1078" y="187" width="3" height="29" fill="#6ba583"/><rect x="1086" y="146" width="1" height="48" fill="#737375"/><rect x="1084" y="148" width="5" height="38" fill="#225437"/><rect x="1085" y="149" width="3" height="36" fill="#6ba583"/><rect x="1093" y="124" width="1" height="38" fill="#737375"/><rect x="1091" y="148" width="5" height="1" fill="#5b1a13"/><rect x="1100" y="121" width="1" height="33" fill="#737375"/><rect x="1098" y="123" width="5" height="25" fill="#225437"/><rect x="1099" y="124" width="3" height="23" fill="#6ba583"/><rect x="1106" y="98" width="1" height="41" fill="#737375"/><rect x="1104" y="102" width="5" height="21" fill="#225437"/><rect x="1105" y="103" width="3" height="19" fill="#6ba583"/><rect x="1113" y="57" width="1" height="148" fill="#737375"/><rect x="1111" y="102" width="5" height="98" fill="#5b1a13"/><rect x="1112" y="103" width="3" height="96" fill="#d75442"/><rect x="1120" y="185" width="1" height="64" fill="#737375"/><rect x="1118" y="199" width="5" height="34" fill="#5b1a13"/><rect x="1119" y="200" width="3" height="32" fill="#d75442"/><rect x="1127" y="213" width="1" height="45" fill="#737375"/><rect x="1125" y="233" width="5" height="25" fill="#5b1a13"/><rect x="1126" y="234" width="3" height="23" fill="#d75442"/><rect x="1134" y="245" width="1" height="43" fill="#737375"/><rect x="1132" y="259" width="5" height="10" fill="#5b1a13"/><rect x="1133" y="260" width="3" height="8" fill="#d75442"/><rect x="1141" y="258" width="1" height="94" fill="#737375"/><rect x="1139" y="268" width="5" height="82" fill="#5b1a13"/><rect x="1140" y="269" width="3" height="80" fill="#d75442"/><rect x="1148" y="337" width="1" height="36" fill="#737375"/><rect x="1146" y="347" width="5" height="18" fill="#5b1a13"/><rect x="1147" y="348" width="3" height="16" fill="#d75442"/><rect x="1155" y="333" width="1" height="43" fill="#737375"/><rect x="1153" y="366" width="5" height="8" fill="#5b1a13"/><rect x="1154" y="367" width="3" height="6" fill="#d75442"/><rect x="1162" y="267" width="1" height="126" fill="#737375"/><rect x="1160" y="268" width="5" height="103" fill="#225437"/><rect x="1161" y="269" width="3" height="101" fill="#6ba583"/><rect x="1169" y="226" width="1" height="43" fill="#737375"/><rect x="1167" y="232" width="5" height="37" fill="#225437"/><rect x="1168" y="233" width="3" height="35" fill="#6ba583"/><rect x="1176" y="219" width="1" height="52" fill="#737375"/><rect x="1174" y="230" width="5" height="32" fill="#5b1a13"/><rect x="1175" y="231" width="3" height="30" fill="#d75442"/><rect x="1183" y="243" width="1" height="36" fill="#737375"/><rect x="1181" y="262" width="5" height="7" fill="#5b1a13"/><rect x="1182" y="263" width="3" height="5" fill="#d75442"/><rect x="1189" y="231" width="1" height="38" fill="#737375"/><rect x="1187" y="244" width="5" height="25" fill="#225437"/><rect x="1188" y="245" width="3" height="23" fill="#6ba583"/><rect x="1196" y="204" width="1" height="46" fill="#737375"/><rect x="1194" y="236" width="5" height="9" fill="#225437"/><rect x="1195" y="237" width="3" height="7" fill="#6ba583"/><rect x="1203" y="200" width="1" height="36" fill="#737375"/><rect x="1201" y="209" width="5" height="27" fill="#225437"/><rect x="1202" y="210" width="3" height="25" fill="#6ba583"/><rect x="1210" y="188" width="1" height="50" fill="#737375"/><rect x="1208" y="209" width="5" height="21" fill="#5b1a13"/><rect x="1209" y="210" width="3" height="19" fill="#d75442"/><rect x="1217" y="228" width="1" height="2" fill="#737375"/><rect x="1215" y="229" width="5" height="1" fill="#5b1a13"/><rect x="1224" y="207" width="1" height="32" fill="#737375"/><rect x="1222" y="227" width="5" height="6" fill="#225437"/><rect x="1223" y="228" width="3" height="4" fill="#6ba583"/><rect x="1231" y="203" width="1" height="48" fill="#737375"/><rect x="1229" y="223" width="5" height="3" fill="#225437"/><rect x="1230" y="224" width="3" height="1" fill="#6ba583"/><rect x="1238" y="200" width="1" height="50" fill="#737375"/><rect x="1236" y="222" width="5" height="28" fill="#5b1a13"/><rect x="1237" y="223" width="3" height="26" fill="#d75442"/><rect x="1245" y="249" width="1" height="43" fill="#737375"/><rect x="1243" y="251" width="5" height="19" fill="#5b1a13"/><rect x="1244" y="252" width="3" height="17" fill="#d75442"/><rect x="1252" y="268" width="1" height="2" fill="#737375"/><rect x="1250" y="269" width="5" height="1" fill="#5b1a13"/><rect x="1259" y="239" width="1" height="44" fill="#737375"/><rect x="1257" y="271" width="5" height="12" fill="#5b1a13"/><rect x="1258" y="272" width="3" height="10" fill="#d75442"/><rect x="1266" y="276" width="1" height="86" fill="#737375"/><rect x="1264" y="283" width="5" height="66" fill="#5b1a13"/><rect x="1265" y="284" width="3" height="64" fill="#d75442"/><rect x="1272" y="340" width="1" height="37" fill="#737375"/><rect x="1270" y="347" width="5" height="2" fill="#225437"/><rect x="1279" y="296" width="1" height="71" fill="#737375"/><rect x="1277" y="328" width="5" height="18" fill="#225437"/><rect x="1278" y="329" width="3" height="16" fill="#6ba583"/><rect x="1286" y="326" width="1" height="36" fill="#737375"/><rect x="1284" y="328" width="5" height="12" fill="#5b1a13"/><rect x="1285" y="329" width="3" height="10" fill="#d75442"/><rect x="1293" y="310" width="1" height="46" fill="#737375"/><rect x="1291" y="337" width="5" height="14" fill="#5b1a13"/><rect x="1292" y="338" width="3" height="12" fill="#d75442"/><rect x="1300" y="336" width="1" height="32" fill="#737375"/><rect x="1298" y="351" width="5" height="7" fill="#5b1a13"/><rect x="1299" y="352" width="3" height="5" fill="#d75442"/><rect x="1307" y="326" width="1" height="72" fill="#737375"/><rect x="1305" y="359" width="5" height="14" fill="#5b1a13"/><rect x="1306" y="360" width="3" height="12" fill="#d75442"/><rect x="1314" y="294" width="1" height="79" fill="#737375"/><rect x="1312" y="328" width="5" height="45" fill="#225437"/><rect x="1313" y="329" width="3" height="43" fill="#6ba583"/><rect x="1321" y="314" width="1" height="21" fill="#737375"/><rect x="1319" y="327" width="5" height="2" fill="#225437"/><rect x="1328" y="325" width="1" height="35" fill="#737375"/><rect x="1326" y="327" width="5" height="30" fill="#5b1a13"/><rect x="1327" y="328" width="3" height="28" fill="#d75442"/><rect x="1335" y="353" width="1" height="40" fill="#737375"/><rect x="1333" y="356" width="5" height="37" fill="#5b1a13"/><rect x="1334" y="357" width="3" height="35" fill="#d75442"/><rect x="1342" y="370" width="1" height="32" fill="#737375"/><rect x="1340" y="373" width="5" height="20" fill="#225437"/><rect x="1341" y="374" width="3" height="18" fill="#6ba583"/><rect x="1349" y="362" width="1" height="37" fill="#737375"/><rect x="1347" y="374" width="5" height="11" fill="#5b1a13"/><rect x="1348" y="375" width="3" height="9" fill="#d75442"/><rect x="1355" y="380" width="1" height="72" fill="#737375"/><rect x="1353" y="385" width="5" height="53" fill="#5b1a13"/><rect x="1354" y="386" width="3" height="51" fill="#d75442"/><rect x="1362" y="401" width="1" height="38" fill="#737375"/><rect x="1360" y="410" width="5" height="28" fill="#225437"/><rect x="1361" y="411" width="3" height="26" fill="#6ba583"/></g>
</g>
<g clip-path="url(#subclip)">
<rect x="3" y="707" width="1432" height="1" fill="#e6e6e6"/>
<rect x="3" y="720" width="1432" height="1" fill="#e6e6e6"/>
<rect x="3" y="787" width="1432" height="1" fill="#e6e6e6"/>
<rect x="41" y="688" width="1" height="116" fill="#e6e6e6"/>
<rect x="200" y="688" width="1" height="116" fill="#e6e6e6"/>
<rect x="352" y="688" width="1" height="116" fill="#e6e6e6"/>
<rect x="498" y="688" width="1" height="116" fill="#e6e6e6"/>
<rect x="657" y="688" width="1" height="116" fill="#e6e6e6"/>
<rect x="802" y="688" width="1" height="116" fill="#e6e6e6"/>
<rect x="954" y="688" width="1" height="116" fill="#e6e6e6"/>
<rect x="1106" y="688" width="1" height="116" fill="#e6e6e6"/>
<rect x="1252" y="688" width="1" height="116" fill="#e6e6e6"/>
<rect x="1411" y="688" width="1" height="116" fill="#e6e6e6"/>
<rect x="3" y="740" width="1432" height="27" fill="#e8f3fd"/>
<line x1="3" y1="740.5" x2="1435" y2="740.5" stroke="#787b86" stroke-width="1" stroke-dasharray="5 6"/>
<line x1="3" y1="754.5" x2="1435" y2="754.5" stroke="#787b86" stroke-width="1" stroke-dasharray="5 6"/>
<line x1="3" y1="767.5" x2="1435" y2="767.5" stroke="#787b86" stroke-width="1" stroke-dasharray="5 6"/>
<polyline points="3.0,700.2 12.6,697.6 30.4,698.2 48.0,693.9 60.7,694.6 68.3,690.6 81.0,696.4 89.8,695.6 97.4,688.8 111.3,693.1 126.5,697.1 139.1,697.6 146.7,700.2 167.0,701.7 174.5,700.7 187.2,704.0 202.4,703.2 220.1,705.7 227.7,704.7 235.3,700.7 247.9,703.2 255.5,701.4 263.1,702.2 268.2,700.7 282.1,704.0 290.9,700.7 303.6,699.7 316.2,700.2 328.9,702.7 341.5,702.7 349.1,704.0 359.2,707.3 366.8,707.3 374.4,704.7 385.2,705.2 394.0,707.3 401.6,702.7 407.9,700.2 420.6,703.2 430.7,705.2 435.8,707.3 442.1,706.8 451.0,707.8 461.1,708.5 469.9,708.5 477.5,703.2 485.1,705.2 496.5,703.2 505.3,700.7 512.9,701.4 526.8,700.7 533.2,701.4 544.5,704.2 553.4,706.8 572.4,708.5 580.0,707.3 587.6,709.5 595.1,708.3 600.7,710.3 607.8,706.2 615.4,707.8 623.0,708.3 629.3,710.3 638.1,709.0 644.5,709.3 649.5,710.8 657.1,709.0 664.7,710.3 677.4,708.8 688.7,711.3 701.4,713.3 711.5,714.3 725.4,710.3 739.3,713.3 747.6,712.3 753.9,710.3 760.2,711.1 767.8,710.3 774.2,711.6 780.5,711.6 788.1,712.8 795.7,703.2 802.0,698.4 815.9,696.4 823.5,696.1 829.8,694.4 836.1,695.6 850.0,700.7 856.4,700.9 864.0,696.9 870.3,699.7 885.5,698.4 891.8,699.7 899.4,697.1 907.0,698.4 919.6,699.7 927.2,698.7 934.8,699.7 947.4,699.4 960.1,700.7 967.7,699.7 975.3,702.2 982.9,701.4 998.0,700.7 1010.7,701.4 1017.0,698.9 1023.3,698.4 1029.7,696.4 1037.2,697.1 1051.2,697.1 1058.7,698.9 1065.1,701.4 1071.4,699.7 1080.2,699.4 1091.6,700.7 1099.2,702.2 1105.5,703.5 1113.1,695.6 1120.1,694.6 1134.0,697.1 1140.4,693.9 1147.9,695.6 1155.0,697.1 1161.9,690.6 1175.8,693.1 1188.4,696.4 1198.5,698.2 1208.7,699.7 1217.5,704.7 1223.8,706.2 1241.5,706.2 1251.7,710.8 1258.0,710.8 1265.6,707.3 1271.9,708.3 1278.2,706.2 1290.9,707.3 1299.7,709.0 1313.6,704.2 1322.5,707.3 1336.4,708.8 1349.1,711.1 1355.4,708.5 1361.7,709.5" fill="none" stroke="#b71c1c" stroke-width="1.0" stroke-linejoin="round" stroke-opacity="1.0"/>
<polyline points="3.0,747.0 20.2,752.0 27.8,757.1 34.2,755.8 40.5,745.2 48.1,751.3 62.0,726.0 73.4,738.6 83.5,743.7 89.8,745.2 96.1,774.8 102.5,790.0 110.0,781.1 116.4,779.9 124.0,776.6 130.3,774.8 137.9,768.5 144.2,766.5 151.8,768.5 159.4,768.5 165.7,769.7 172.0,766.0 179.6,763.9 187.2,763.4 199.8,756.6 206.2,755.3 213.8,758.4 227.7,752.3 235.3,737.6 242.3,728.5 249.2,736.9 255.5,743.2 263.1,744.4 269.4,750.8 275.7,739.4 282.1,741.9 288.4,758.4 296.0,774.8 303.6,782.4 309.9,778.6 317.5,770.5 325.1,765.4 339.0,767.2 345.3,764.7 352.9,759.6 365.5,756.6 372.5,759.6 386.4,754.6 394.0,750.3 407.9,723.5 415.0,722.4 421.9,727.5 429.4,731.0 443.4,740.1 456.0,745.7 463.6,745.2 469.9,744.2 477.5,748.7 483.8,750.8 490.9,747.7 497.7,750.8 511.7,765.4 518.0,768.0 531.9,779.9 538.2,778.1 545.8,773.0 554.7,770.5 567.3,768.5 580.0,763.9 587.6,761.9 600.2,753.8 607.8,743.7 615.4,741.2 628.0,739.1 635.6,734.3 642.7,733.6 649.5,738.6 658.4,741.9 671.0,750.8 683.7,760.4 697.6,760.4 706.5,762.2 718.6,767.5 726.7,762.9 734.3,760.4 740.0,759.6 746.3,758.4 753.9,758.4 760.7,752.8 767.8,756.3 774.2,762.2 781.0,769.2 788.1,770.0 795.1,769.0 802.0,798.3 808.3,792.5 815.9,783.2 823.0,777.3 829.8,769.0 837.4,761.4 843.7,760.4 851.3,758.4 856.9,758.4 864.0,752.0 876.6,747.7 884.2,744.4 891.8,744.4 898.9,738.6 907.0,741.9 920.9,745.7 927.2,745.7 934.8,743.7 939.8,740.7 946.2,745.2 953.8,748.2 961.4,748.7 968.9,745.2 975.3,744.4 982.3,757.1 989.2,764.9 996.0,764.7 1003.1,776.6 1010.2,783.2 1016.2,755.8 1022.8,733.1 1029.7,726.0 1036.5,725.0 1043.6,737.6 1050.6,735.1 1058.7,738.1 1065.1,738.6 1071.4,735.1 1079.0,730.0 1085.3,730.0 1092.9,731.0 1099.2,732.3 1105.5,733.1 1113.1,740.7 1120.1,748.2 1132.8,754.6 1147.9,770.5 1155.0,771.0 1169.4,752.8 1183.4,757.1 1202.3,750.3 1216.2,752.0 1230.2,750.3 1237.8,750.3 1245.3,757.1 1259.3,754.6 1268.1,769.7 1278.2,766.5 1287.1,769.0 1297.2,770.0 1307.3,770.5 1321.2,759.6 1330.1,762.9 1338.9,766.5 1349.1,766.5 1355.4,773.0 1361.7,771.5" fill="none" stroke="#2962ff" stroke-width="1.0" stroke-linejoin="round" stroke-opacity="1.0"/>
</g>
<!-- pane separators / axes -->
<rect x="3" y="687" width="1496" height="1" fill="#e0e3eb"/>
<rect x="3" y="717" width="1496" height="1" fill="#e0e3eb"/>
<rect x="3" y="804" width="1496" height="1" fill="#4a4a4a"/>
<rect x="1435" y="3" width="1" height="829" fill="#4a4a4a"/>
<!-- legends backgrounds -->
<rect x="7" y="8" width="637" height="22" fill="#fff" fill-opacity="0.5"/>
<rect x="7" y="31" width="146" height="32" fill="#fff" fill-opacity="0.5"/>
<rect x="7" y="63" width="541" height="24" fill="#fff" fill-opacity="0.5"/>
<rect x="7" y="724" width="167" height="22" fill="#fff" fill-opacity="0.5"/>
<rect x="7" y="688" width="115" height="27" fill="#fff" fill-opacity="0.5"/>
<!-- price axis -->
<text x="1443.3" y="53.9" class="ax">26.000</text><text x="1443.3" y="102.9" class="ax">25.500</text><text x="1443.3" y="152.9" class="ax">25.000</text><text x="1443.3" y="201.9" class="ax">24.500</text><text x="1443.3" y="251.9" class="ax">24.000</text><text x="1443.3" y="300.9" class="ax">23.500</text><text x="1443.3" y="349.9" class="ax">23.000</text><text x="1443.3" y="399.9" class="ax">22.500</text><text x="1443.3" y="448.9" class="ax">22.000</text><text x="1443.3" y="498.9" class="ax">21.500</text><text x="1443.3" y="547.9" class="ax">21.000</text><text x="1443.3" y="597.9" class="ax">20.500</text><text x="1443.3" y="646.9" class="ax">20.000</text><text x="1443.3" y="710.9" class="ax">0.500</text><g clip-path="url(#cciclip)"><text x="1443.3" y="723.9" class="ax">250.00</text></g><text x="1443.3" y="757.9" class="ax">0.00</text><text x="1443.3" y="790.9" class="ax">−250.00</text>
<path d="M1435,29 h47 a2,2 0 0 1 2,2 v13 a2,2 0 0 1 -2,2 h-47 z" fill="#000"/><text x="1442.8" y="41.8" class="axb">26.129</text><path d="M1435,115 h47 a2,2 0 0 1 2,2 v13 a2,2 0 0 1 -2,2 h-47 z" fill="#000"/><text x="1442.8" y="127.8" class="axb">25.262</text><path d="M1435,186 h47 a2,2 0 0 1 2,2 v13 a2,2 0 0 1 -2,2 h-47 z" fill="#000"/><text x="1442.8" y="198.8" class="axb">24.541</text><path d="M1435,565 h47 a2,2 0 0 1 2,2 v13 a2,2 0 0 1 -2,2 h-47 z" fill="#000"/><text x="1442.8" y="577.8" class="axb">20.706</text><path d="M1435,644 h47 a2,2 0 0 1 2,2 v13 a2,2 0 0 1 -2,2 h-47 z" fill="#000"/><text x="1442.8" y="656.8" class="axb">19.909</text><path d="M1435,402 h58 a2,2 0 0 1 2,2 v13 a2,2 0 0 1 -2,2 h-58 z" fill="#6ba583"/><text x="1442.6" y="415" class="axb" style="font-size:12px" fill="#eef6f1">07:14:20</text>
<text x="41.5" y="822" class="tx" text-anchor="middle">May</text><text x="200.5" y="822" class="tx" text-anchor="middle">Jun</text><text x="352.5" y="822" class="tx" text-anchor="middle">Jul</text><text x="498.5" y="822" class="tx" text-anchor="middle">Aug</text><text x="657.5" y="822" class="tx" text-anchor="middle">Sep</text><text x="802.5" y="822" class="tx" text-anchor="middle">Oct</text><text x="954.5" y="822" class="tx" text-anchor="middle">Nov</text><text x="1106.5" y="822" class="tx" text-anchor="middle">Dec</text><text x="1252.5" y="822" class="tx" text-anchor="middle">2024</text><text x="1411.5" y="822" class="tx" text-anchor="middle">Feb</text>
<!-- legend row 1 -->
<circle cx="20.95" cy="18.8" r="8.8" fill="#aaaabe"/>
<path d="M18.8,14.7 L23.1,14.7 L24.4,17.9 L17.5,17.9 Z M15.4,18.7 L19.1,18.7 L20.4,21.9 L14,21.9 Z M22.8,18.7 L26.5,18.7 L27.9,21.9 L21.5,21.9 Z" fill="#fff"/>
<text x="34.3" y="24.6" style="font:15px 'Liberation Sans',sans-serif;fill:#555">CFDs on Silver (US$ / OZ) · 1D · TVC</text>
<circle cx="310" cy="18.6" r="9" fill="#089981" fill-opacity="0.12"/>
<circle cx="310" cy="18.6" r="4" fill="#089981"/>
<text y="23.6" class="lg13"><tspan x="334.6">O</tspan><tspan fill="#24643f">22.086</tspan><tspan x="390">H</tspan><tspan fill="#24643f">22.447</tspan><tspan x="444.3">L</tspan><tspan fill="#24643f">22.064</tspan><tspan x="497">C</tspan><tspan fill="#24643f">22.355</tspan><tspan x="551.1" fill="#24643f">+0.277</tspan><tspan x="594.2" fill="#24643f">(+1.25%)</tspan></text>
<!-- row 2 -->
<rect x="11.5" y="35.5" width="53" height="23" rx="4" fill="#fff" stroke="#f23645"/>
<text x="19" y="51.5" style="font:13px 'Liberation Sans',sans-serif;fill:#f23645">22.35<tspan font-size="10" dy="-4">8</tspan></text>
<text x="73.4" y="51.3" class="lg" style="font-size:11px;fill:#333">1.3</text>
<rect x="96.5" y="35.5" width="53" height="23" rx="4" fill="#fff" stroke="#2962ff"/>
<text x="104" y="51.5" style="font:13px 'Liberation Sans',sans-serif;fill:#2962ff">22.37<tspan font-size="10" dy="-4">1</tspan></text>
<!-- row 3 -->
<text y="79.8" class="lg"><tspan x="11.7">MA Ribbon SMA close 20 SMA close 50 SMA close 100 SMA close 200</tspan><tspan x="403.5" fill="#f23645">23.091</tspan><tspan x="448.7" fill="#2962ff">23.650</tspan><tspan x="493" fill="#555">Ø</tspan><tspan x="506.9" fill="#131722">23.515</tspan></text>
<!-- row 4 collapse button -->
<rect x="12.5" y="89.5" width="28" height="20" rx="4" fill="#fff" stroke="#e0e3eb"/>
<path d="M22.5,101.5 l4,-4 l4,4" fill="none" stroke="#131722" stroke-width="1.5"/>
<!-- ATR / CCI legends -->
<text y="709" class="lg"><tspan x="12" style="font-size:11.6px">ATR 14 RMA</tspan><tspan x="87.9" fill="#b71c1c">0.474</tspan></text>
<text y="739" class="lg"><tspan x="12">CCI 20 hlc3 SMA 5</tspan><tspan x="122.5" fill="#2962ff">−132.84</tspan></text>
<!-- TV logo -->
<g fill="#131722" stroke="#fff" stroke-width="3" paint-order="stroke"><path d="M15,775 h12 v15 h-6 v-9.2 h-6 z"/><circle cx="32" cy="777.9" r="2.9"/><path d="M38.3,775 h6.4 l-5.9,15 h-6.6 z"/></g>
<rect x="1436" y="3" width="63" height="34" fill="#fff"/>
<!-- USD box -->
<rect x="1439.5" y="7.5" width="55" height="25" rx="4" fill="#fff" stroke="#e0e3eb"/>
<text x="1443" y="24" style="font:12px 'Liberation Sans',sans-serif;fill:#131722">USD</text>
<path d="M1484.5,19 l2.5,2.5 l2.5,-2.5" fill="none" stroke="#131722" stroke-width="1.2"/>
<g id="wm"><filter id="wsh" x="-10%" y="-10%" width="120%" height="130%"><feDropShadow dx="2" dy="2.2" stdDeviation="1.1" flood-color="#404040" flood-opacity="0.85"/></filter>
<g opacity="0.78" filter="url(#wsh)"><path d="M1268.1,745.0 L1280.1,745.0 L1278.2,755.0 L1266.2,755.0 Z M1263.6,758.0 L1272.6,758.0 L1270.8,767.0 L1261.8,767.0 Z M1260.3,798.7 L1275.7,775.7 L1269.2,772.3 L1253.7,795.3 Z M1285.3,740.7 L1276.9,752.7 L1281.8,755.3 L1290.1,743.3 Z M1280.5,743.0 L1319.5,743.0 L1318.1,750.0 L1279.1,750.0 Z M1283.4,754.0 L1315.4,754.0 L1314.0,761.0 L1282.0,761.0 Z M1281.4,754.0 L1288.4,754.0 L1280.8,793.0 L1273.8,793.0 Z M1307.4,754.0 L1315.4,754.0 L1307.8,793.0 L1299.8,793.0 Z M1273.6,768.0 L1317.6,768.0 L1315.5,779.0 L1271.5,779.0 Z M1272.7,788.0 L1308.7,788.0 L1307.6,794.0 L1271.6,794.0 Z M1328.7,742.0 L1374.7,742.0 L1373.3,749.0 L1327.3,749.0 Z M1367.7,742.0 L1374.7,742.0 L1370.4,764.0 L1363.4,764.0 Z M1326.7,747.0 L1333.7,747.0 L1330.0,766.0 L1323.0,766.0 Z M1323.6,763.0 L1375.6,763.0 L1374.1,771.0 L1322.1,771.0 Z M1368.6,763.0 L1375.6,763.0 L1369.4,795.0 L1362.4,795.0 Z M1342.6,789.0 L1370.6,789.0 L1369.2,796.0 L1341.2,796.0 Z M1316.5,779.0 L1359.5,779.0 L1358.1,786.0 L1315.1,786.0 Z M1382.3,744.0 L1406.3,744.0 L1404.9,751.0 L1380.9,751.0 Z M1382.3,744.0 L1388.3,744.0 L1380.5,784.0 L1374.5,784.0 Z M1400.3,744.0 L1406.3,744.0 L1398.5,784.0 L1392.5,784.0 Z M1389.4,754.0 L1393.4,754.0 L1389.1,776.0 L1385.1,776.0 Z M1376.1,782.1 L1369.7,794.1 L1375.1,795.9 L1381.4,783.9 Z M1388.8,784.4 L1392.7,795.4 L1398.5,792.6 L1394.6,781.6 Z M1407.4,754.0 L1435.4,754.0 L1434.2,760.0 L1406.2,760.0 Z M1426.7,742.0 L1433.7,742.0 L1423.0,797.0 L1416.0,797.0 Z M1407.2,791.0 L1424.2,791.0 L1423.0,797.0 L1406.0,797.0 Z M1422.5,758.3 L1398.3,790.3 L1403.7,793.7 L1427.9,761.7 Z M1457.0,740.3 L1444.9,756.3 L1450.3,759.7 L1462.4,743.7 Z M1448.2,755.0 L1460.2,755.0 L1458.8,762.0 L1446.8,762.0 Z M1458.0,756.9 L1441.7,773.9 L1446.4,778.1 L1462.8,761.1 Z M1445.1,771.0 L1459.1,771.0 L1457.7,778.0 L1443.7,778.0 Z M1438.3,799.1 L1458.2,789.1 L1456.0,782.9 L1436.1,792.9 Z M1471.7,742.0 L1498.7,742.0 L1497.3,749.0 L1470.3,749.0 Z M1494.9,743.8 L1469.6,760.8 L1473.2,767.2 L1498.5,750.2 Z M1474.5,753.5 L1496.8,767.5 L1502.0,760.5 L1479.8,746.5 Z M1469.8,762.0 L1495.8,762.0 L1494.6,768.0 L1468.6,768.0 Z M1479.0,766.0 L1486.0,766.0 L1481.4,790.0 L1474.4,790.0 Z M1456.7,788.0 L1494.7,788.0 L1493.4,795.0 L1455.4,795.0 Z" fill="#fdfeff" stroke="#fdfeff" stroke-width="1.2" stroke-linejoin="round"/></g>
<filter id="wsh2" x="-20%" y="-20%" width="140%" height="150%"><feDropShadow dx="-1.5" dy="1.5" stdDeviation="0.8" flood-color="#4a5870" flood-opacity="0.6"/></filter>
<text y="828.5" style="font:italic bold 32px 'Liberation Sans',sans-serif" fill="#88c0f8" stroke="#88c0f8" stroke-width="1.4" stroke-linejoin="round" filter="url(#wsh2)"><tspan x="1268">z</tspan><tspan x="1294.6">z</tspan><tspan x="1322">r</tspan><tspan x="1347">t</tspan><tspan x="1366.3">0</tspan><tspan x="1400">1</tspan><tspan x="1424.3">.</tspan><tspan x="1444.5">c</tspan><tspan x="1469.4">n</tspan></text></g>
<text x="1411.5" y="822" class="tx" text-anchor="middle">Feb</text>
<!-- settings icon -->
<path d="M1461.1,818.8 L1464.4,812.6 L1471.9,812.6 L1474.8,818.8 L1471.4,824.9 L1464.2,824.9 Z" fill="#fff" stroke="#131722" stroke-width="1.1" stroke-linejoin="round"/>
<circle cx="1467.9" cy="818.9" r="2.2" fill="none" stroke="#131722" stroke-width="1.1"/>
</svg>
</body></html>
